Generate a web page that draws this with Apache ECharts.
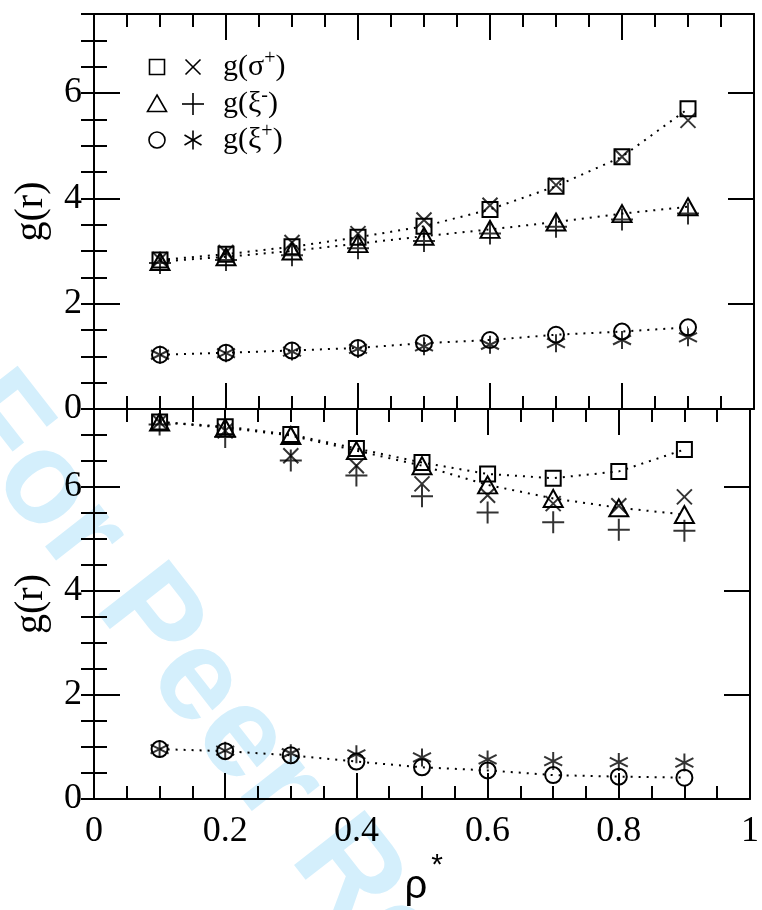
<!DOCTYPE html>
<html>
<head>
<meta charset="utf-8">
<script src="https://cdn.jsdelivr.net/npm/echarts@6/dist/echarts.min.js"></script>
<style>
html,body{margin:0;padding:0;background:#fff;}
#chart{width:762px;height:910px;}
</style>
</head>
<body>
<div id="chart"></div>
<script>
// ---- data ----
const rho = [0.1, 0.2, 0.3, 0.4, 0.5, 0.6, 0.7, 0.8, 0.9];
const xTickLabels = ['0', '0.2', '0.4', '0.6', '0.8', '1'];
const yTickLabels = ['0', '2', '4', '6'];
// top panel
const topSigmaA = [2.83, 2.94, 3.08, 3.26, 3.47, 3.79, 4.23, 4.79, 5.70];   // squares
const topSigmaB = [2.84, 2.97, 3.16, 3.33, 3.59, 3.87, 4.25, 4.79, 5.48];   // crosses
const topXiMinusA = [2.80, 2.89, 3.00, 3.14, 3.28, 3.41, 3.55, 3.71, 3.84]; // triangles
const topXiMinusB = [2.77, 2.83, 2.92, 3.05, 3.19, 3.33, 3.46, 3.60, 3.71]; // plus
const topXiPlusA = [1.03, 1.07, 1.11, 1.16, 1.25, 1.31, 1.41, 1.47, 1.55];  // circles
const topXiPlusB = [1.03, 1.06, 1.09, 1.14, 1.19, 1.22, 1.25, 1.31, 1.36];  // asterisks
// bottom panel
const botSigmaA = [7.25, 7.16, 7.01, 6.74, 6.47, 6.25, 6.17, 6.30, 6.72];
const botSigmaB = [7.25, 7.08, 6.60, 6.41, 6.06, 5.84, 5.68, 5.64, 5.81];
const botXiMinusA = [7.25, 7.14, 6.99, 6.70, 6.41, 6.04, 5.78, 5.60, 5.47];
const botXiMinusB = [7.20, 6.96, 6.51, 6.22, 5.82, 5.51, 5.32, 5.18, 5.16];
const botXiPlusA = [0.96, 0.92, 0.84, 0.72, 0.61, 0.55, 0.46, 0.43, 0.41];
const botXiPlusB = [0.96, 0.93, 0.88, 0.86, 0.80, 0.76, 0.73, 0.71, 0.70];

// ---- build ----
const BLACK = '#000';
const SERIF = 'Liberation Serif';
const pair = arr => rho.map((x, i) => [x, arr[i]]);

function xAx(gridIndex, position, showLabel) {
  return {
    type: 'value', gridIndex, position, min: 0, max: 1, interval: 0.2,
    axisLine: { show: true, onZero: false, lineStyle: { color: BLACK, width: 2 } },
    axisTick: { show: true, inside: true, length: 26, lineStyle: { color: BLACK, width: 2 } },
    minorTick: { show: true, splitNumber: 4, length: 13, lineStyle: { color: BLACK, width: 2 } },
    splitLine: { show: false },
    axisLabel: {
      show: showLabel, margin: 15, color: BLACK, fontFamily: SERIF, fontSize: 36,
      formatter: v => { const s = String(Math.round(v * 10) / 10); return xTickLabels.indexOf(s) >= 0 ? s : ''; }
    }
  };
}
function yMajor(gridIndex, position, showLabel, name) {
  return {
    type: 'value', gridIndex, position, min: 0, max: 7.5, interval: 2,
    name: name || '', nameLocation: 'middle', nameGap: 43, nameRotate: 90,
    nameTextStyle: { color: BLACK, fontFamily: SERIF, fontSize: 40 },
    axisLine: { show: true, onZero: false, lineStyle: { color: BLACK, width: 2 } },
    axisTick: { show: true, inside: true, length: 26, lineStyle: { color: BLACK, width: 2 } },
    splitLine: { show: false },
    axisLabel: {
      show: showLabel, showMaxLabel: false, margin: 12, color: BLACK, fontFamily: SERIF, fontSize: 36,
      formatter: v => { const s = String(v); return yTickLabels.indexOf(s) >= 0 ? s : ''; }
    }
  };
}
function yMinor(gridIndex, position) {
  return {
    type: 'value', gridIndex, position, min: 0, max: 7.5, interval: 0.5,
    axisLine: { show: false },
    axisTick: { show: true, inside: true, length: 13, lineStyle: { color: BLACK, width: 2 } },
    splitLine: { show: false },
    axisLabel: { show: false }
  };
}

const crossPath = 'path://M0,0L10,10M10,0L0,10';
const plusPath = 'path://M5,0L5,10M0,5L10,5';
const starPath = 'path://M5,0L5,10M0.67,2.5L9.33,7.5M9.33,2.5L0.67,7.5';

function lineSeries(name, data, symbol, size, xi, yi) {
  return {
    type: 'line', name, data: pair(data), xAxisIndex: xi, yAxisIndex: yi,
    symbol, symbolSize: size, showSymbol: true,
    lineStyle: { color: BLACK, width: 2, type: [2, 6] },
    itemStyle: { color: 'transparent', borderColor: BLACK, borderWidth: 2 },
    emphasis: { disabled: true }, z: 3
  };
}
function markSeries(name, data, symbol, size, xi, yi) {
  return {
    type: 'scatter', name, data: pair(data), xAxisIndex: xi, yAxisIndex: yi,
    symbol, symbolSize: size,
    itemStyle: { color: 'transparent', borderColor: BLACK, borderWidth: 2 },
    emphasis: { disabled: true }, z: 4
  };
}

const series = [];
[[0, 0, topSigmaA, topSigmaB, topXiMinusA, topXiMinusB, topXiPlusA, topXiPlusB],
 [2, 4, botSigmaA, botSigmaB, botXiMinusA, botXiMinusB, botXiPlusA, botXiPlusB]].forEach(p => {
  const [xi, yi, sA, sB, mA, mB, pA, pB] = p;
  series.push(lineSeries('g(σ+)', sA, 'rect', 15, xi, yi));
  series.push(markSeries('g(σ+) b', sB, crossPath, 15, xi, yi));
  series.push(lineSeries('g(ξ-)', mA, 'triangle', [19, 17], xi, yi));
  series.push(markSeries('g(ξ-) b', mB, plusPath, 22, xi, yi));
  series.push(lineSeries('g(ξ+)', pA, 'circle', 16, xi, yi));
  series.push(markSeries('g(ξ+) b', pB, starPath, [18, 18], xi, yi));
});

// legend graphics (not data)
const L = { sx: 157, cx: 193, tx: 223, rows: [67, 104, 140] };
const stroke = { stroke: BLACK, lineWidth: 1.6, fill: 'none' };
function ln(x1, y1, x2, y2) { return { type: 'line', shape: { x1, y1, x2, y2 }, style: stroke, silent: true }; }
function legText(y, base, sup) {
  return {
    type: 'text', x: L.tx, y: y, silent: true,
    style: {
      text: '{a|g(' + base + '}{s|' + sup + '}{a|)}',
      verticalAlign: 'middle', align: 'left',
      rich: {
        a: { fontFamily: SERIF, fontSize: 30, fill: BLACK, lineHeight: 36 },
        s: { fontFamily: SERIF, fontSize: 20, fill: BLACK, verticalAlign: 'top', lineHeight: 22 }
      }
    }
  };
}
const r0 = L.rows[0], r1 = L.rows[1], r2 = L.rows[2];
const graphic = [
  // watermark
  {
    type: 'text', x: -30, y: 392, rotation: -52 * Math.PI / 180, z: -100, silent: true,
    style: { text: 'For Peer Review', fill: '#d4effc', fontFamily: 'Liberation Sans', fontWeight: 'bold', fontSize: 130, align: 'left', verticalAlign: 'middle' }
  },
  // row 1: square, cross
  { type: 'rect', shape: { x: L.sx - 7.5, y: r0 - 7.5, width: 15, height: 15 }, style: stroke, silent: true },
  ln(L.cx - 7.5, r0 - 7.5, L.cx + 7.5, r0 + 7.5), ln(L.cx + 7.5, r0 - 7.5, L.cx - 7.5, r0 + 7.5),
  legText(r0, 'σ', '+'),
  // row 2: triangle, plus
  { type: 'polygon', shape: { points: [[L.sx, r1 - 9], [L.sx + 9.5, r1 + 7.5], [L.sx - 9.5, r1 + 7.5]] }, style: stroke, silent: true },
  ln(L.cx - 11, r1, L.cx + 11, r1), ln(L.cx, r1 - 11, L.cx, r1 + 11),
  legText(r1, 'ξ', '-'),
  // row 3: circle, asterisk
  { type: 'circle', shape: { cx: L.sx, cy: r2, r: 8 }, style: stroke, silent: true },
  ln(L.cx, r2 - 9.5, L.cx, r2 + 9.5), ln(L.cx - 8.5, r2 - 5, L.cx + 8.5, r2 + 5), ln(L.cx + 8.5, r2 - 5, L.cx - 8.5, r2 + 5),
  legText(r2, 'ξ', '+'),
  // x axis title rho*
  { type: 'text', x: 416, y: 887, silent: true, style: { text: 'ρ', fill: BLACK, fontFamily: 'Liberation Sans', fontSize: 40, align: 'center', verticalAlign: 'middle' } },
  { type: 'text', x: 437, y: 866, silent: true, style: { text: '*', fill: BLACK, fontFamily: 'Liberation Sans', fontSize: 30, align: 'center', verticalAlign: 'middle' } }
];

const option = {
  animation: false,
  backgroundColor: '#fff',
  grid: [
    { left: 94, right: 8, top: 14, height: 395, containLabel: false },
    { left: 94, right: 8, top: 409, height: 390, containLabel: false }
  ],
  xAxis: [xAx(0, 'bottom', false), xAx(0, 'top', false), xAx(1, 'bottom', true), xAx(1, 'top', false)],
  yAxis: [
    yMajor(0, 'left', true, 'g(r)'), yMinor(0, 'left'), yMajor(0, 'right', false), yMinor(0, 'right'),
    yMajor(1, 'left', true, 'g(r)'), yMinor(1, 'left'), yMajor(1, 'right', false), yMinor(1, 'right')
  ],
  series,
  graphic
};
const chart = echarts.init(document.getElementById('chart'), null, { renderer: 'canvas' });
chart.setOption(option);
</script>
</body>
</html>
